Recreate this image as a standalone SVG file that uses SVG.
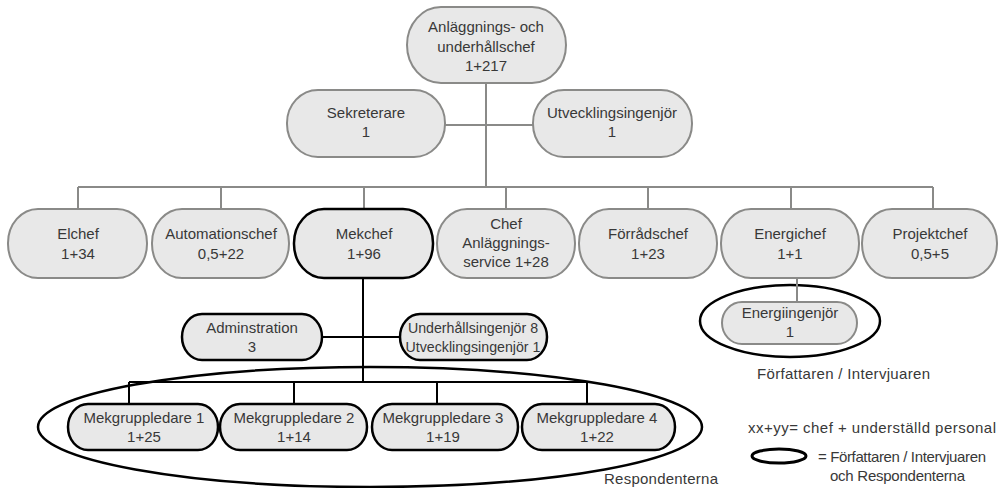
<svg xmlns="http://www.w3.org/2000/svg" width="999" height="488" viewBox="0 0 999 488">
<style>
.n{fill:#e8e8e8;stroke:#8a8a88;stroke-width:2}
.b{fill:#e8e8e8;stroke:#000;stroke-width:2.5}
.t{font-family:"Liberation Sans",Arial,sans-serif;font-size:15px;fill:#383838;text-anchor:middle}
.l{font-family:"Liberation Sans",Arial,sans-serif;font-size:15px;fill:#383838}
.cg{stroke:#8a8a88;stroke-width:2;fill:none}
.ck{stroke:#000;stroke-width:2;fill:none}
.ov{fill:none;stroke:#000;stroke-width:2.5}
</style>
<rect width="999" height="488" fill="#fff"/>
<g id="groups">
<ellipse class="ov" cx="370" cy="427" rx="332" ry="60"/>
<ellipse class="ov" cx="790" cy="321" rx="90" ry="36"/>
</g>
<g id="connectors">
<path class="cg" d="M486 83V187M445 125H533M78 187H933M78 187V209M221 187V209M364 187V209M506 187V209M648 187V209M791 187V209M933 187V209M797 278V302"/>
<path class="ck" d="M363 278V382M322 337H400M129 382H587M129 382V404M294 382V404M437 382V404M587 382V404"/>
</g>
<g id="n-top"><rect class="n" x="407" y="7" width="159" height="76" rx="34" ry="38"/>
<text class="t" x="486" y="32">Anläggnings- och</text><text class="t" x="486" y="52">underhållschef</text><text class="t" x="486" y="71">1+217</text></g>
<g id="n-sek"><rect class="n" x="287" y="90" width="158" height="67" rx="31" ry="33"/>
<text class="t" x="366" y="118">Sekreterare</text><text class="t" x="366" y="137">1</text></g>
<g id="n-utv"><rect class="n" x="533" y="90" width="159" height="67" rx="31" ry="33"/>
<text class="t" x="612" y="118">Utvecklingsingenjör</text><text class="t" x="612" y="137">1</text></g>
<g id="n-el"><rect class="n" x="8" y="209" width="139" height="69" rx="30" ry="34"/>
<text class="t" x="78" y="239">Elchef</text><text class="t" x="78" y="259">1+34</text></g>
<g id="n-aut"><rect class="n" x="152" y="209" width="137" height="69" rx="30" ry="34"/>
<text class="t" x="221" y="239">Automationschef</text><text class="t" x="221" y="259">0,5+22</text></g>
<g id="n-mek"><rect class="b" x="294" y="209" width="139" height="69" rx="30" ry="34"/>
<text class="t" x="364" y="239">Mekchef</text><text class="t" x="364" y="259">1+96</text></g>
<g id="n-chef"><rect class="n" x="437" y="209" width="138" height="69" rx="30" ry="34"/>
<text class="t" x="506" y="229">Chef</text><text class="t" x="506" y="248">Anläggnings-</text><text class="t" x="506" y="267">service 1+28</text></g>
<g id="n-forr"><rect class="n" x="579" y="209" width="138" height="69" rx="30" ry="34"/>
<text class="t" x="648" y="239">Förrådschef</text><text class="t" x="648" y="259">1+23</text></g>
<g id="n-energi"><rect class="n" x="721" y="209" width="138" height="69" rx="30" ry="34"/>
<text class="t" x="790" y="239">Energichef</text><text class="t" x="790" y="259">1+1</text></g>
<g id="n-proj"><rect class="n" x="862" y="209" width="135" height="69" rx="30" ry="34"/>
<text class="t" x="930" y="239">Projektchef</text><text class="t" x="930" y="259">0,5+5</text></g>
<g id="n-energiing"><rect class="n" x="722" y="302" width="135" height="42" rx="20" ry="21"/>
<text class="t" x="790" y="318">Energiingenjör</text><text class="t" x="790" y="337">1</text></g>
<g id="n-admin"><rect class="b" x="182" y="314" width="140" height="46" rx="20" ry="23"/>
<text class="t" x="252" y="333">Adminstration</text><text class="t" x="252" y="352">3</text></g>
<g id="n-underh"><rect class="b" x="400" y="314" width="147" height="46" rx="20" ry="23"/>
<text class="t" x="473" y="333" style="font-size:14.2px">Underhållsingenjör 8</text><text class="t" x="473" y="352" style="font-size:14.2px">Utvecklingsingenjör 1</text></g>
<g id="n-mg1"><rect class="b" x="68" y="404" width="150" height="46" rx="20" ry="23"/>
<text class="t" x="144" y="423">Mekgruppledare 1</text><text class="t" x="144" y="442">1+25</text></g>
<g id="n-mg2"><rect class="b" x="220" y="404" width="147" height="46" rx="20" ry="23"/>
<text class="t" x="294" y="423">Mekgruppledare 2</text><text class="t" x="294" y="442">1+14</text></g>
<g id="n-mg3"><rect class="b" x="372" y="404" width="146" height="46" rx="20" ry="23"/>
<text class="t" x="443" y="423">Mekgruppledare 3</text><text class="t" x="443" y="442">1+19</text></g>
<g id="n-mg4"><rect class="b" x="522" y="404" width="153" height="46" rx="20" ry="23"/>
<text class="t" x="597" y="423">Mekgruppledare 4</text><text class="t" x="597" y="442">1+22</text></g>
<g id="labels">
<text class="l" x="757" y="379" textLength="173">Författaren / Intervjuaren</text>
<text class="l" x="604" y="484" textLength="114">Respondenterna</text>
</g>
<g id="legend">
<text class="l" x="748" y="433" textLength="248">xx+yy= chef + underställd personal</text>
<ellipse cx="779" cy="456" rx="27" ry="7" fill="none" stroke="#000" stroke-width="3"/>
<text class="l" x="818" y="462" textLength="168">= Författaren / Intervjuaren</text>
<text class="l" x="830" y="481" textLength="135">och Respondenterna</text>
</g>
</svg>
